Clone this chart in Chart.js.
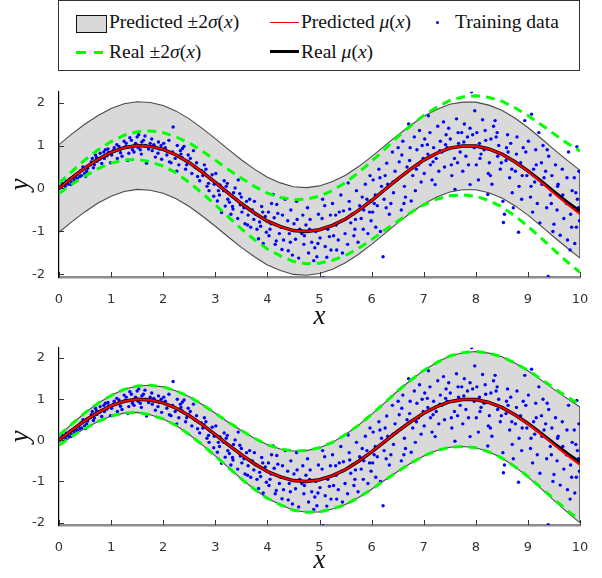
<!DOCTYPE html>
<html>
<head>
<meta charset="utf-8">
<script src="https://cdn.jsdelivr.net/npm/chart.js@4.4.1/dist/chart.umd.min.js"></script>
<style>
    body { margin: 0; background: #fff; width: 602px; height: 578px; position: relative; overflow: hidden; }
    #legend { position: absolute; left: 58px; top: 0; width: 520px; height: 69px; border: 1.5px solid #333; font-family: 'Liberation Serif', serif; font-size: 19.5px; color: #111; }
    #legend .lbl { position: absolute; white-space: nowrap; line-height: 20px; }
    #legend .mark { position: absolute; }
    .panel { position: absolute; left: 0; }
</style>
</head>
<body>
<div id="legend">
    <div class="mark" style="left:17px;top:14px;width:29px;height:16px;background:#d9d9d9;border:1px solid #111;"></div>
    <div class="lbl" style="left:50px;top:11px;">Predicted ±2<i>σ</i>(<i>x</i>)</div>
    <div class="mark" style="left:211px;top:21px;width:29px;height:1.3px;background:#ff0000;"></div>
    <div class="lbl" style="left:242px;top:11px;">Predicted <i>μ</i>(<i>x</i>)</div>
    <div class="mark" style="left:377px;top:20px;width:3px;height:3px;border-radius:50%;background:#0000ff;"></div>
    <div class="lbl" style="left:396px;top:11px;">Training data</div>
    <div class="mark" style="left:17px;top:50px;width:10px;height:3px;background:#00ff00;"></div>
    <div class="mark" style="left:35px;top:50px;width:9px;height:3px;background:#00ff00;"></div>
    <div class="lbl" style="left:50px;top:41px;">Real ±2<i>σ</i>(<i>x</i>)</div>
    <div class="mark" style="left:211px;top:49px;width:29px;height:3px;background:#000;"></div>
    <div class="lbl" style="left:242px;top:41px;">Real <i>μ</i>(<i>x</i>)</div>
</div>
<div class="panel" style="top:78px;"><canvas id="top" width="602" height="256"></canvas></div>
<div class="panel" style="top:334px;"><canvas id="bottom" width="602" height="244"></canvas></div>
<script>
// curve grid (step 0.25) and values
const xGrid = [0, 0.25, 0.5, 0.75, 1, 1.25, 1.5, 1.75, 2, 2.25, 2.5, 2.75, 3, 3.25, 3.5, 3.75, 4, 4.25, 4.5, 4.75,
    5, 5.25, 5.5, 5.75, 6, 6.25, 6.5, 6.75, 7, 7.25, 7.5, 7.75, 8, 8.25, 8.5, 8.75, 9, 9.25, 9.5, 9.75, 10];
const realMu = [0.00, 0.25, 0.48, 0.68, 0.84, 0.95, 1.00, 0.98, 0.91, 0.78, 0.60, 0.38, 0.14, -0.11, -0.35, -0.57, -0.76, -0.89, -0.98, -1.00,
    -0.96, -0.86, -0.71, -0.51, -0.28, -0.03, 0.22, 0.45, 0.66, 0.82, 0.94, 0.99, 0.99, 0.92, 0.80, 0.62, 0.41, 0.17, -0.08, -0.32, -0.54];
const predMu = [0.00, 0.25, 0.48, 0.68, 0.84, 0.95, 1.00, 0.98, 0.91, 0.78, 0.60, 0.38, 0.14, -0.11, -0.35, -0.57, -0.76, -0.89, -0.98, -1.00,
    -0.96, -0.86, -0.71, -0.51, -0.28, -0.03, 0.22, 0.45, 0.66, 0.82, 0.94, 0.99, 0.99, 0.92, 0.80, 0.62, 0.40, 0.15, -0.11, -0.36, -0.60];
// real 2*sigma(x)
const realHalf = [0.12, 0.15, 0.19, 0.22, 0.25, 0.29, 0.32, 0.36, 0.39, 0.42, 0.46, 0.49, 0.52, 0.55, 0.59, 0.62, 0.65, 0.68, 0.72, 0.75,
    0.78, 0.81, 0.85, 0.88, 0.91, 0.94, 0.98, 1.01, 1.04, 1.07, 1.11, 1.14, 1.17, 1.20, 1.23, 1.26, 1.29, 1.32, 1.35, 1.38, 1.41];
// predicted 2*sigma, top panel (constant)
const predHalfTop = 1.02;

const trainX = [
    0.01,0.06,0.07,0.12,0.14,0.15,0.21,0.24,0.23,0.31,0.29,0.35,0.34,0.40,0.43,0.42,0.49,0.51,0.55,0.53,0.60,0.62,0.66,0.64,0.70,0.73,0.72,0.79,0.78,0.86,0.82,0.89,0.92,0.95,0.94,0.99,
    1.01,1.06,1.04,1.12,1.11,1.18,1.17,1.25,1.21,1.29,1.28,1.36,1.32,1.41,1.39,1.46,1.44,1.50,1.53,1.52,1.59,1.58,1.66,1.62,1.72,1.68,1.75,1.79,1.78,1.85,1.84,1.91,1.90,1.97,1.96,
    2.01,2.07,2.04,2.12,2.11,2.18,2.19,2.23,2.27,2.26,2.33,2.30,2.37,2.36,2.43,2.40,2.49,2.48,2.55,2.52,2.61,2.58,2.66,2.64,2.73,2.70,2.79,2.76,2.84,2.82,2.91,2.88,2.94,2.97,2.98,
    3.01,3.04,3.09,3.08,3.12,3.17,3.16,3.19,3.24,3.23,3.30,3.27,3.35,3.34,3.38,3.43,3.44,3.48,3.51,3.50,3.57,3.55,3.63,3.60,3.68,3.66,3.74,3.71,3.80,3.78,3.83,3.85,3.89,3.87,3.92,3.96,3.98,
    4.02,4.03,4.08,4.07,4.11,4.15,4.13,4.18,4.23,4.20,4.28,4.26,4.34,4.31,4.39,4.40,4.45,4.42,4.51,4.48,4.56,4.54,4.62,4.60,4.68,4.70,4.74,4.71,4.79,4.77,4.85,4.82,4.89,4.93,4.95,4.97,4.98,
    5.01,5.05,5.07,5.11,5.10,5.16,5.14,5.21,5.22,5.27,5.25,5.32,5.33,5.38,5.36,5.43,5.41,5.49,5.46,5.54,5.55,5.60,5.57,5.66,5.63,5.71,5.68,5.77,5.74,5.82,5.80,5.88,5.85,5.93,5.91,5.97,5.99,
    6.02,6.03,6.08,6.07,6.14,6.11,6.19,6.17,6.22,6.26,6.24,6.29,6.34,6.31,6.40,6.37,6.45,6.42,6.51,6.48,6.57,6.58,6.63,6.60,6.68,6.65,6.71,6.76,6.73,6.82,6.79,6.87,6.84,6.92,6.90,6.97,6.95,
    7.02,7.01,7.08,7.09,7.13,7.12,7.19,7.16,7.22,7.27,7.24,7.32,7.29,7.38,7.35,7.43,7.40,7.48,7.45,7.54,7.51,7.59,7.60,7.63,7.67,7.65,7.73,7.70,7.78,7.75,7.84,7.81,7.89,7.89,7.92,7.97,7.98,
    8.02,8.01,8.07,8.05,8.13,8.10,8.18,8.16,8.24,8.23,8.29,8.26,8.34,8.31,8.37,8.42,8.39,8.47,8.44,8.52,8.53,8.58,8.55,8.61,8.65,8.62,8.70,8.67,8.76,8.72,8.79,8.82,8.86,8.83,8.91,8.88,8.94,8.98,
    9.01,9.05,9.07,9.11,9.09,9.15,9.13,9.21,9.18,9.26,9.23,9.31,9.29,9.36,9.34,9.39,9.43,9.40,9.48,9.50,9.46,9.56,9.53,9.61,9.62,9.58,9.69,9.66,9.74,9.76,9.78,9.81,9.85,9.82,9.89,9.90,9.93,9.94,9.97,9.95,9.99,
    0.18,0.46,0.68,0.87,1.15,1.34,1.47,1.56,1.65,1.82,1.93,2.15,2.34,2.45,2.63,2.78,2.87,3.06,3.21,3.33,3.47,3.62,3.75,3.91,4.05,4.17,4.29,4.44,4.57,4.66,
    4.81,4.91,5.06,5.19,5.31,5.44,5.58,5.69,5.84,5.96,6.05,6.16,6.28,6.41,6.53,6.62,6.74,6.86,6.99,7.07,7.18,7.31,7.42,7.53,7.66,7.77,7.86,7.94,8.08,8.19,
    8.28,8.41,8.49,8.59,8.69,8.78,8.89,8.96,9.06,9.16,9.27,9.37,9.45,9.57,9.67,9.75,9.84,9.92,9.98
];
const trainY = [
    0.01,0.08,0.12,0.05,0.17,0.12,0.22,0.14,0.09,0.27,0.20,0.24,0.33,0.28,0.30,0.42,0.35,0.28,0.47,0.40,0.55,0.62,0.48,0.70,0.78,0.63,0.72,0.82,0.68,0.85,0.58,0.90,0.76,0.84,0.92,0.60,
    0.78,0.95,0.88,0.70,1.02,0.83,0.92,1.10,0.75,1.05,0.97,1.18,0.65,0.90,1.12,1.02,0.85,1.20,1.25,0.95,1.08,0.80,1.00,1.12,0.92,0.59,1.05,0.88,1.15,0.73,0.97,1.08,0.82,0.68,1.00,
    1.05,0.78,0.95,0.62,1.12,0.85,1.43,0.70,1.00,0.40,0.88,0.55,0.93,0.72,0.45,0.98,0.62,0.78,0.35,0.70,0.50,0.88,0.28,0.60,0.42,0.18,0.55,0.30,0.05,0.45,0.22,-0.05,0.32,-0.18,0.10,
    0.35,-0.29,0.08,-0.15,-0.56,0.18,-0.05,-0.41,-0.25,0.12,-0.60,-0.32,-0.10,-0.48,0.01,-0.70,0.20,-0.38,-0.55,-0.20,-0.82,-0.45,-0.62,-0.30,-0.90,-0.25,-0.72,-0.50,-0.95,-0.60,-1.17,-0.78,-0.42,-0.88,-1.28,-0.65,-1.02,
    -0.55,-1.10,-0.35,-0.82,-0.14,-1.30,-0.68,-0.37,-1.05,-0.58,-1.42,-0.90,-0.25,-1.20,-0.75,-1.45,-0.50,-1.05,-0.82,-1.55,-0.30,-1.18,-0.95,-1.62,-0.62,-1.30,-0.85,-1.10,-1.50,-0.45,-1.25,-0.72,-1.68,-1.00,-1.59,-1.28,-0.60,
    -1.15,-0.70,-2.08,-1.35,-0.40,-0.95,-1.60,-0.62,-1.43,-1.10,-0.35,-0.85,-1.43,-0.55,-1.20,-0.75,-0.15,-1.05,-0.52,-1.30,0.13,-0.80,-0.30,-1.10,-0.60,-0.05,-0.95,-0.40,-1.25,-0.20,-0.70,0.10,-0.50,-1.05,-0.25,0.30,-0.75,
    -0.55,0.20,-0.90,-0.15,0.45,-0.40,0.05,-1.00,-1.59,0.30,-0.25,0.59,-0.60,0.10,0.85,-0.35,0.40,-0.10,0.95,0.20,-0.50,0.78,0.05,1.10,0.50,-0.20,1.50,-0.29,0.65,1.20,0.30,0.90,-0.05,1.35,0.55,1.00,0.15,
    1.15,0.35,0.80,1.69,0.55,1.30,0.95,0.20,0.09,1.45,0.70,1.10,0.40,1.55,0.85,1.25,0.50,1.40,0.95,0.30,1.15,0.70,-0.02,1.62,1.05,0.60,1.30,0.85,1.50,0.40,1.20,0.75,1.40,0.09,2.25,0.95,1.81,
    1.30,0.55,1.05,0.20,1.60,0.80,1.35,0.90,0.35,-0.14,1.15,0.60,1.45,0.10,1.58,0.75,1.20,0.45,1.00,-0.30,-0.79,0.65,-0.60,1.25,0.25,0.85,-0.10,1.05,0.40,-0.45,1.20,-1.02,0.60,0.05,0.95,-0.25,1.58,0.30,
    1.10,-0.20,1.73,0.45,-0.55,0.90,0.15,1.30,-0.35,0.60,-0.80,0.25,1.00,-0.45,0.40,-2.05,-0.15,0.75,-1.00,-0.83,0.30,-0.50,0.55,-0.20,-1.09,0.10,-0.70,0.45,-0.35,-1.20,0.85,-1.43,-0.05,-0.60,0.25,-1.28,-0.90,0.97,-0.45,-0.25,-0.75,
    0.10,0.50,0.55,0.70,0.98,0.82,1.05,0.90,1.22,1.02,0.92,0.60,0.80,0.55,0.48,0.38,0.12,-0.05,0.05,-0.42,-0.12,-0.85,-0.30,-0.55,-0.95,-1.22,-0.62,-1.25,-0.72,-1.05,
    -0.95,-1.38,-0.25,-1.12,-0.62,-1.50,-0.48,-0.72,-0.95,-0.55,-0.35,0.25,-0.45,0.15,0.62,-0.35,0.95,0.45,0.70,1.02,0.62,0.88,1.02,0.55,1.30,1.08,0.55,1.25,0.70,1.12,
    0.30,1.30,0.60,0.95,0.45,0.80,0.30,0.85,0.05,0.55,0.10,0.90,-0.35,0.05,-0.15,0.25,-0.90,-0.10,0.40
];

const xTicks = [0, 1, 2, 3, 4, 5, 6, 7, 8, 9, 10];
const yTicks = [-2, -1, 0, 1, 2];
const yMin = -2.06, yMax = 2.25;

const tickFont = { family: 'DejaVu Sans', size: 13 };
const titleFont = { family: 'Liberation Serif', style: 'italic', size: 27 };

function curve(mu, half, sign) {
    return xGrid.map((x, i) => ({ x: x, y: mu[i] + sign * (Array.isArray(half) ? half[i] : half) }));
}

function edge(mu, half, idx) {
    const h = Array.isArray(half) ? half[idx] : half;
    return [{ x: xGrid[idx], y: mu[idx] + h }, { x: xGrid[idx], y: mu[idx] - h }];
}

const trainPoints = trainX.map((x, i) => ({ x: x, y: trainY[i] }));

// small inward tick marks, like the original axes
const innerTicks = {
    id: 'innerTicks',
    afterDraw(chart) {
        const { ctx, chartArea: a, scales: { x, y } } = chart;
        ctx.save();
        ctx.strokeStyle = '#333';
        ctx.lineWidth = 1;
        x.ticks.forEach(t => {
            const px = Math.round(x.getPixelForValue(t.value)) + 0.5;
            ctx.beginPath(); ctx.moveTo(px, a.bottom); ctx.lineTo(px, a.bottom - 5); ctx.stroke();
        });
        y.ticks.forEach(t => {
            const py = Math.round(y.getPixelForValue(t.value)) + 0.5;
            ctx.beginPath(); ctx.moveTo(a.left, py); ctx.lineTo(a.left + 5, py); ctx.stroke();
        });
        ctx.restore();
    }
};

function makePanel(id, bandHalf, padTop, xHeight) {
    const line = (data, color, width, order, dash) => ({
        type: 'line', data: data, borderColor: color, borderWidth: width, borderDash: dash || [],
        pointRadius: 0, fill: false, tension: 0, order: order
    });
    const datasets = [
        Object.assign(line(curve(predMu, bandHalf, 1), '#4a4a4a', 1.1, 10), { fill: '+1', backgroundColor: '#d9d9d9' }),
        line(curve(predMu, bandHalf, -1), '#4a4a4a', 1.1, 9),
        line(edge(predMu, bandHalf, 0), '#4a4a4a', 1.1, 9),
        line(edge(predMu, bandHalf, xGrid.length - 1), '#4a4a4a', 1.5, 9),
        { type: 'scatter', data: trainPoints, backgroundColor: '#0000ff', borderWidth: 0, pointRadius: 1.7, order: 6 },
        line(curve(realMu, realHalf, 1), '#00ff00', 3, 5, [9, 6]),
        line(curve(realMu, realHalf, -1), '#00ff00', 3, 5, [9, 6]),
        line(curve(realMu, 0, 0), '#000000', 3.5, 3),
        line(curve(predMu, 0, 0), '#ff0000', 2, 2)
    ];
    return new Chart(document.getElementById(id), {
        type: 'scatter',
        data: { datasets: datasets },
        options: {
            responsive: false,
            animation: false,
            events: [],
            layout: { padding: { top: padTop, right: 22, left: 0, bottom: 0 } },
            plugins: { legend: { display: false }, tooltip: { enabled: false } },
            scales: {
                x: {
                    type: 'linear', min: 0, max: 10,
                    afterBuildTicks: s => { s.ticks = xTicks.map(v => ({ value: v })); },
                    afterFit: s => { s.height = xHeight; },
                    grid: { display: false },
                    border: { display: true, color: '#8c8c8c', width: 2.5 },
                    ticks: { font: tickFont, color: '#333', padding: 7, maxRotation: 0 },
                    title: { display: true, text: 'x', font: titleFont, color: '#111', padding: { top: 0, bottom: 1 } }
                },
                y: {
                    type: 'linear', min: yMin, max: yMax,
                    afterBuildTicks: s => { s.ticks = yTicks.map(v => ({ value: v })); },
                    afterFit: s => { s.width = 59; },
                    grid: { display: false },
                    border: { display: true, color: '#000', width: 1.2 },
                    ticks: { font: tickFont, color: '#333', padding: 6 },
                    title: { display: true, text: 'y', font: titleFont, color: '#111', padding: { top: 5, bottom: 0 } }
                }
            }
        },
        plugins: [innerTicks]
    });
}

makePanel('top', predHalfTop, 11, 57);
// bottom panel: predicted 2*sigma matches the real one
makePanel('bottom', realHalf, 3, 53);
</script>
</body>
</html>
